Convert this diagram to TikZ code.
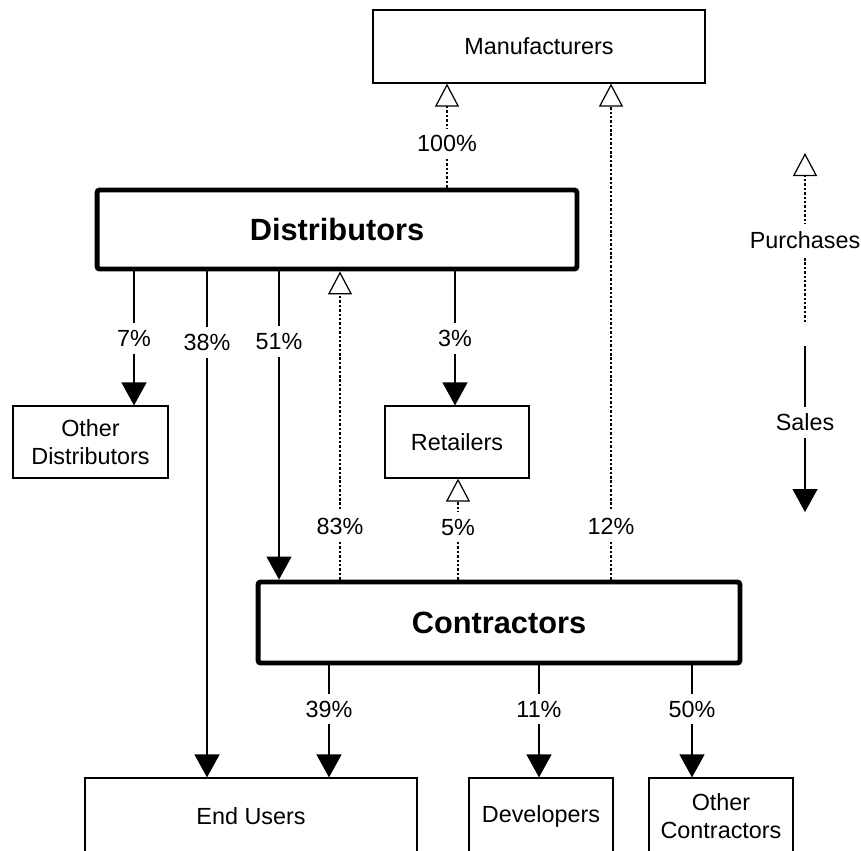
\documentclass[tikz,border=0pt]{standalone}
\usepackage{fontspec}
\setmainfont{Liberation Sans}
\usetikzlibrary{arrows.meta}

\begin{document}
\begin{tikzpicture}[x=0.02cm, y=-0.02cm,
  box/.style={draw, line width=0.7pt, inner sep=0pt, align=center,
    font=\fontsize{13.3}{15.8}\selectfont},
  bigbox/.style={draw, line width=2.8pt, rounded corners=1.5pt, inner sep=0pt,
    font=\fontsize{17.5}{21}\selectfont\bfseries},
  sale/.style={line width=0.7pt, -{Triangle[width=0.5cm, length=0.46cm]}},
  buy/.style={line width=1.4pt, dash pattern=on 1.4pt off 1.1pt,
    -{Triangle[open, fill=white, width=0.48cm, length=0.46cm, line width=0.7pt]}},
  pct/.style={fill=white, inner xsep=1pt, inner ysep=4pt,
    font=\fontsize{13.3}{15.8}\selectfont}]
  \clip (0,0) rectangle (861,850);

  % the trade levels
  \node[box, minimum width=6.64cm, minimum height=1.46cm] (manu) at (539,46.5) {Manufacturers};
  \node[bigbox, minimum width=9.6cm, minimum height=1.58cm] (dist) at (337,229.5) {Distributors};
  \node[box, minimum width=3.1cm, minimum height=1.44cm] (odist) at (90.5,442) {Other\\Distributors};
  \node[box, minimum width=2.88cm, minimum height=1.44cm] (retail) at (457,442) {Retailers};
  \node[bigbox, minimum width=9.64cm, minimum height=1.62cm] (contr) at (499,622.5) {Contractors};
  \node[box, minimum width=6.64cm, minimum height=1.52cm] (users) at (251,816) {End Users};
  \node[box, minimum width=2.88cm, minimum height=1.52cm] (devel) at (541,816) {Developers};
  \node[box, minimum width=2.88cm, minimum height=1.52cm] (ocontr) at (721,816) {Other\\Contractors};

  % sales
  \draw[sale] (134,0 |- dist.south) -- node[pct]{7\%} (134,0 |- odist.north);
  \draw[sale] (207,0 |- dist.south) -- node[pct, pos=0.14]{38\%} (207,0 |- users.north);
  \draw[sale] (279,0 |- dist.south) -- node[pct, pos=0.227]{51\%} (279,0 |- contr.north);
  \draw[sale] (455,0 |- dist.south) -- node[pct]{3\%} (455,0 |- retail.north);
  \draw[sale] (329,0 |- contr.south) -- node[pct, pos=0.39]{39\%} (329,0 |- users.north);
  \draw[sale] (539,0 |- contr.south) -- node[pct, pos=0.39]{11\%} (539,0 |- devel.north);
  \draw[sale] (692,0 |- contr.south) -- node[pct, pos=0.39]{50\%} (692,0 |- ocontr.north);

  % purchases
  \draw[buy] (447,0 |- dist.north) -- node[pct, pos=0.42]{100\%} (447,0 |- manu.south);
  \draw[buy] (340,0 |- contr.north) -- node[pct, pos=0.173]{83\%} (340,0 |- dist.south);
  \draw[buy] (458,0 |- contr.north) -- node[pct, pos=0.52]{5\%} (458,0 |- retail.south);
  \draw[buy] (611,0 |- contr.north) -- node[pct, pos=0.108]{12\%} (611,0 |- manu.south);

  % legend
  \coordinate (buyend) at (805,322);
  \coordinate (buytop) at (805,153);
  \coordinate (salestart) at (805,346);
  \coordinate (saleend) at (805,512);
  \draw[buy] (buyend) -- node[pct, pos=0.485]{Purchases} (buytop);
  \draw[sale] (salestart) -- node[pct, pos=0.46]{Sales} (saleend);
\end{tikzpicture}
\end{document}
